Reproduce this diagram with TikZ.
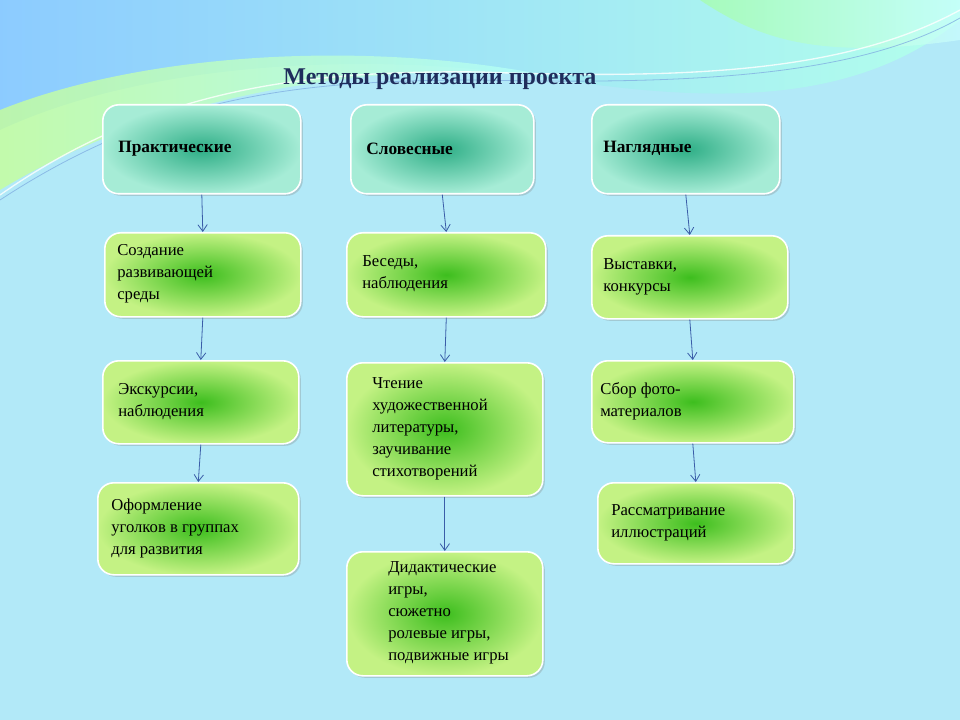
\documentclass[tikz,border=0pt]{standalone}
\usepackage{fontspec}
\setmainfont{Liberation Serif}
\usetikzlibrary{arrows.meta,shadows}
\definecolor{bg}{HTML}{B2E9F8}
\definecolor{navy}{HTML}{1F2D5C}
\definecolor{arr}{HTML}{3A5DA8}
\definecolor{tealin}{HTML}{2EAE86}
\definecolor{tealout}{HTML}{A6ECD6}
\definecolor{grin}{HTML}{3DBE1E}
\definecolor{grout}{HTML}{C4F284}
\tikzset{
  top/.style={draw=white,line width=1.2pt,rounded corners=12pt,shading=radial,
    inner color=tealin,outer color=tealout,
    drop shadow={opacity=0.3,shadow xshift=1.5pt,shadow yshift=-1.5pt}},
  sub/.style={draw=white,line width=1.2pt,rounded corners=12pt,shading=radial,
    inner color=grin,outer color=grout,
    drop shadow={opacity=0.3,shadow xshift=1.5pt,shadow yshift=-1.5pt}},
  toptext/.style={font=\fontsize{13}{15}\selectfont\bfseries},
  subtext/.style={font=\fontsize{12.5}{16.5}\selectfont},
  link/.style={-{Straight Barb[length=5pt,width=7pt]},draw=arr,line width=0.6pt}
}
\newcommand{\bx}[8]{% style,name,x1,y1,x2,y2,pad,text
  \pgfmathsetmacro{\bw}{(#5-#3)*0.75}%
  \pgfmathsetmacro{\bh}{(#6-#4)*0.75}%
  \pgfmathsetmacro{\tx}{#3+#7}%
  \pgfmathsetmacro{\cy}{(#4+#6)/2}%
  \node[#1,anchor=north west,minimum width=\bw pt,minimum height=\bh pt,inner sep=0pt] (#2) at (#3,#4) {};
  \node[#1text,anchor=west,inner sep=0pt,align=left] (#2t) at (\tx,\cy) {#8};}
\begin{document}
\begin{tikzpicture}[x=0.75pt,y=-0.75pt]
\fill[bg] (0,0) rectangle (960,720);
\useasboundingbox (0,0) rectangle (960,720);
% wave background
\shade[left color=cyan!55!blue!45!white,right color=green!25!cyan!30!white]
  (0,0) -- (960,0) -- (960,20) .. controls (850,110) and (700,100) .. (560,80)
  .. controls (380,50) and (150,60) .. (0,130) -- cycle;
\shade[left color=green!40!lime!40!white,right color=cyan!30!white,opacity=0.8]
  (0,110) .. controls (150,50) and (380,40) .. (560,78) .. controls (420,60) and (180,80) .. (0,190) -- cycle;
\shade[left color=green!35!white,right color=cyan!20!white,opacity=0.7]
  (700,0) .. controls (760,40) and (820,60) .. (960,40) -- (960,0) -- cycle;
\draw[white,line width=1pt,opacity=0.8] (0,195) .. controls (150,90) and (300,70) .. (480,72)
  .. controls (700,80) and (850,70) .. (960,10);
\draw[cyan!60!blue!50,line width=0.6pt,opacity=0.8] (0,200) .. controls (160,95) and (300,80) .. (480,80)
  .. controls (700,85) and (860,75) .. (960,18);
\node[navy,font=\fontsize{18}{20}\selectfont\bfseries] (title) at (440,79) {Методы реализации проекта};
% top boxes
\bx{top}{p}{102}{104}{300}{193}{16}{Практические}
\bx{top}{s}{350}{104}{533}{193}{16}{Словесные}
\bx{top}{n}{591}{104}{779}{193}{12}{Наглядные}
% column 1
\bx{sub}{p1}{104}{232}{300}{316}{13}{Создание\\развивающей\\среды}
\bx{sub}{p2}{102}{360}{298}{443}{16}{Экскурсии,\\наблюдения}
\bx{sub}{p3}{97}{482}{298}{574}{14}{Оформление\\уголков в группах\\для развития}
% column 2
\bx{sub}{s1}{346}{232}{545}{316}{16}{Беседы,\\наблюдения}
\bx{sub}{s2}{346}{362}{542}{495}{26}{Чтение\\художественной\\литературы,\\заучивание\\стихотворений}
\bx{sub}{s3}{346}{551}{542}{675}{42}{Дидактические\\игры,\\сюжетно\\ролевые игры,\\подвижные игры}
% column 3
\bx{sub}{n1}{591}{235}{787}{318}{12}{Выставки,\\конкурсы}
\bx{sub}{n2}{591}{360}{793}{442}{9}{Сбор фото-\\материалов}
\bx{sub}{n3}{597}{482}{793}{563}{14}{Рассматривание\\иллюстраций}
% arrows
\draw[link] (p.south) -- (p1.north);
\draw[link] (p1.south) -- (p2.north);
\draw[link] (p2.south) -- (p3.north);
\draw[link] (s.south) -- (s1.north);
\draw[link] (s1.south) -- (s2.north);
\draw[link] (s2.south) -- (s3.north);
\draw[link] (n.south) -- (n1.north);
\draw[link] (n1.south) -- (n2.north);
\draw[link] (n2.south) -- (n3.north);
\end{tikzpicture}
\end{document}
